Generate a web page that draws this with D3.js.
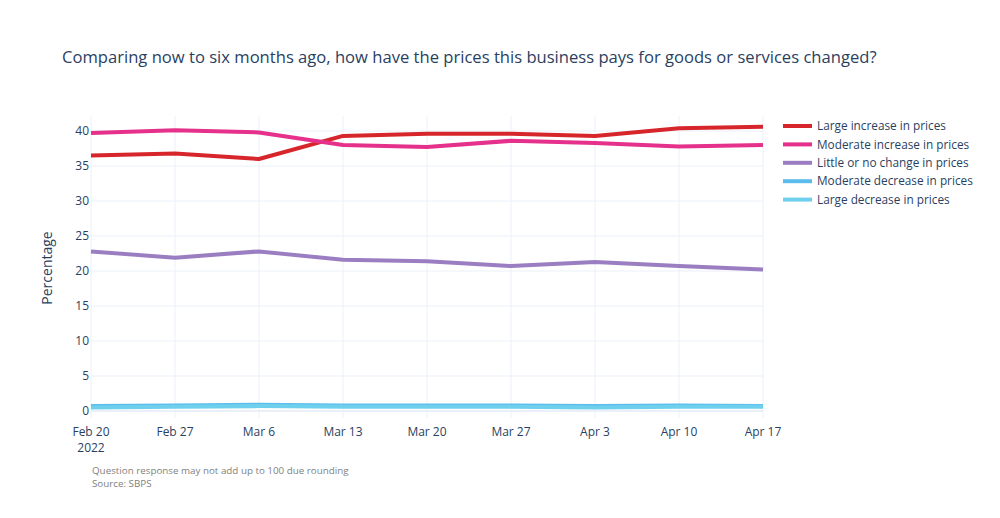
<!DOCTYPE html>
<html><head><meta charset="utf-8">
<script src="https://cdn.jsdelivr.net/npm/d3@7"></script>
<style>body{margin:0;background:#fff;font-family:"Open Sans",sans-serif}</style>
</head><body><svg id="c" width="1000" height="518"></svg>
<script>
const dates = ["2022-02-20","2022-02-27","2022-03-06","2022-03-13","2022-03-20","2022-03-27","2022-04-03","2022-04-10","2022-04-17"];
const largeIncrease = [36.5,36.8,36.0,39.3,39.6,39.6,39.3,40.4,40.6];
const moderateIncrease = [39.7,40.1,39.8,38.0,37.7,38.6,38.3,37.8,38.0];
const littleChange = [22.8,21.9,22.8,21.6,21.4,20.7,21.3,20.7,20.2];
const moderateDecrease = [0.7,0.8,0.9,0.8,0.8,0.8,0.7,0.8,0.7];
const largeDecrease = [0.5,0.6,0.7,0.6,0.6,0.6,0.5,0.6,0.6];
const seriesNames = ["Large increase in prices","Moderate increase in prices","Little or no change in prices","Moderate decrease in prices","Large decrease in prices"];
const seriesColors = ["#d7262b","#e5318b","#9b7ec2","#5cbdec","#6fd0ee"];
const yTicks = [0,5,10,15,20,25,30,35,40];
const title = "Comparing now to six months ago, how have the prices this business pays for goods or services changed?";
const notes = ["Question response may not add up to 100 due rounding","Source: SBPS"];

const series = [largeIncrease,moderateIncrease,littleChange,moderateDecrease,largeDecrease];
const parse = d3.timeParse("%Y-%m-%d");
const xd = dates.map(parse);
const svg = d3.select("#c");
const txt = "#2a3f5f";
const x = d3.scaleTime().domain([xd[0], xd[xd.length-1]]).range([91,763]);
const y = d3.scaleLinear().domain([0,40]).range([411,131]);

// grid
const g = svg.append("g");
g.selectAll(".vg").data(xd).join("line")
  .attr("x1",d=>x(d)).attr("x2",d=>x(d)).attr("y1",116).attr("y2",418)
  .attr("stroke","#ebf0f8").attr("stroke-width",1);
g.selectAll(".hg").data(yTicks).join("line")
  .attr("x1",91).attr("x2",763).attr("y1",d=>y(d)).attr("y2",d=>y(d))
  .attr("stroke","#ebf0f8").attr("stroke-width",d=>d===0?2:1);

// y labels
svg.selectAll(".yl").data(yTicks).join("text")
  .attr("x",89).attr("y",d=>y(d)).attr("dy","0.35em").attr("text-anchor","end")
  .attr("font-size",12).attr("fill",txt).text(d=>d);

// x labels
const fmt = d3.timeFormat("%b %-d");
svg.selectAll(".xl").data(xd).join("text")
  .attr("x",d=>x(d)).attr("y",436).attr("text-anchor","middle")
  .attr("font-size",12).attr("fill",txt).text(d=>fmt(d));
svg.append("text").attr("x",x(xd[0])).attr("y",452).attr("text-anchor","middle")
  .attr("font-size",12).attr("fill",txt).text("2022");

// y title
svg.append("text").attr("transform","translate(52,268) rotate(-90)")
  .attr("text-anchor","middle").attr("font-size",14).attr("fill",txt).text("Percentage");

// lines
const line = d3.line().x((d,i)=>x(xd[i])).y(d=>y(d));
series.forEach((s,k)=>{
  svg.append("path").datum(s).attr("d",line).attr("fill","none")
    .attr("stroke",seriesColors[k]).attr("stroke-width",4).attr("stroke-linejoin","round");
});

// legend
seriesNames.forEach((n,k)=>{
  const yy = 126 + k*18.4;
  svg.append("line").attr("x1",783).attr("x2",812).attr("y1",yy).attr("y2",yy)
    .attr("stroke",seriesColors[k]).attr("stroke-width",4);
  svg.append("text").attr("x",817).attr("y",yy).attr("dy","0.35em")
    .attr("font-size",11.8).attr("fill",txt).text(n);
});

// title
svg.append("text").attr("x",62).attr("y",63).attr("font-size",16.6).attr("fill",txt).text(title);

// notes
notes.forEach((n,i)=>{
  svg.append("text").attr("x",92).attr("y",474+i*13).attr("font-size",9.8).attr("fill","#7f7f7f").text(n);
});
</script></body></html>
